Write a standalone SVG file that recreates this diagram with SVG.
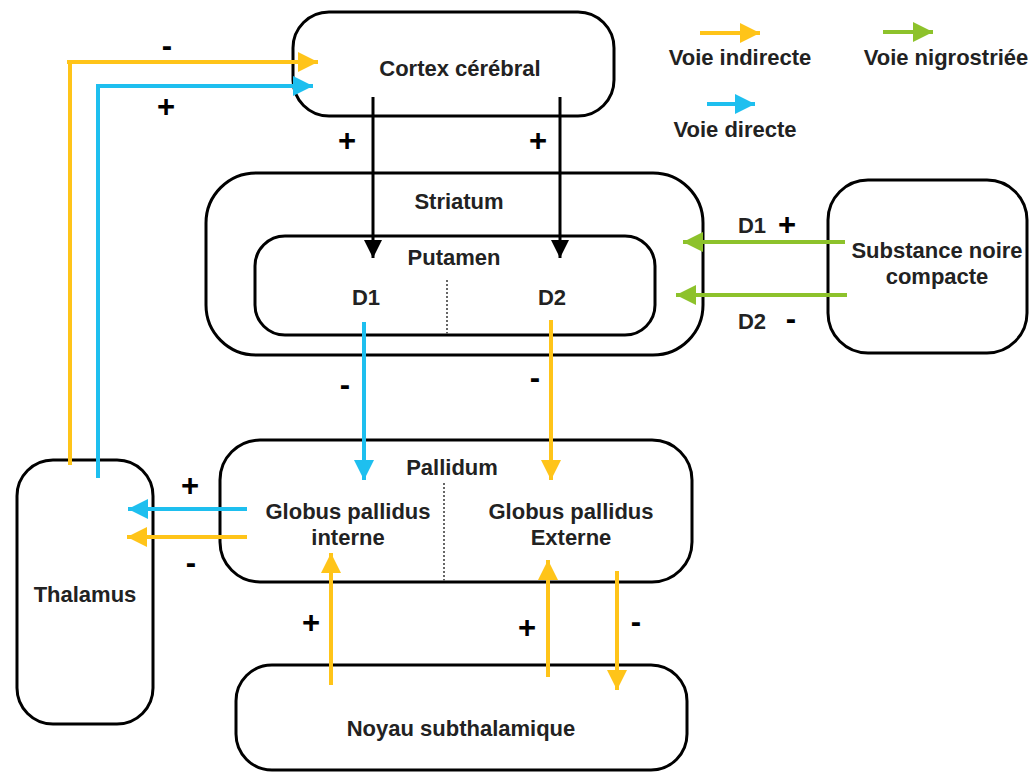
<svg xmlns="http://www.w3.org/2000/svg" width="1029" height="772" viewBox="0 0 1029 772">
<style>
.box{fill:#fff;stroke:#000;stroke-width:3}
.t{font-family:"Liberation Sans",Arial,sans-serif;font-size:22px;font-weight:bold;fill:#222;text-anchor:middle}
.s{font-family:"Liberation Sans",Arial,sans-serif;font-size:31px;font-weight:bold;fill:#000;text-anchor:middle}
.o{stroke:#FFC419;stroke-width:4;fill:none}
.b{stroke:#1EBFEF;stroke-width:4;fill:none}
.g{stroke:#8DC22B;stroke-width:4;fill:none}
.k{stroke:#000;stroke-width:3;fill:none}
.dot{stroke:#666;stroke-width:2;stroke-dasharray:2 2;fill:none}
</style>
<defs>
<marker id="mo" viewBox="0 0 10 10" refX="10" refY="5" markerWidth="5" markerHeight="5" markerUnits="strokeWidth" orient="auto"><path d="M0,0L10,5L0,10z" fill="#FFC419"/></marker>
<marker id="mb" viewBox="0 0 10 10" refX="10" refY="5" markerWidth="5" markerHeight="5" markerUnits="strokeWidth" orient="auto"><path d="M0,0L10,5L0,10z" fill="#1EBFEF"/></marker>
<marker id="mg" viewBox="0 0 10 10" refX="10" refY="5" markerWidth="5" markerHeight="5" markerUnits="strokeWidth" orient="auto"><path d="M0,0L10,5L0,10z" fill="#8DC22B"/></marker>
<marker id="mk" viewBox="0 0 10 10" refX="10" refY="5" markerWidth="6" markerHeight="6" markerUnits="strokeWidth" orient="auto"><path d="M0,0L10,5L0,10z" fill="#000"/></marker>
</defs>
<rect width="1029" height="772" fill="#fff"/>

<g id="cortex"><rect class="box" x="293" y="12" width="321" height="104" rx="36"/><text class="t" x="460" y="76">Cortex cérébral</text></g>
<g id="striatum"><rect class="box" x="206" y="173" width="497" height="182" rx="50"/><text class="t" x="459" y="209">Striatum</text></g>
<g id="putamen"><rect class="box" x="255" y="236" width="400" height="99" rx="30"/><text class="t" x="454" y="265">Putamen</text><text class="t" x="366" y="305">D1</text><text class="t" x="552" y="305">D2</text><line class="dot" x1="447" y1="280" x2="447" y2="334"/></g>
<g id="substance-noire"><rect class="box" x="828" y="180" width="199" height="173" rx="40"/><text class="t" x="937" y="258">Substance noire</text><text class="t" x="937" y="284">compacte</text></g>
<g id="pallidum"><rect class="box" x="220" y="440" width="472" height="142" rx="40"/><text class="t" x="452" y="475">Pallidum</text><line class="dot" x1="444" y1="483" x2="444" y2="581"/><text class="t" x="348" y="519">Globus pallidus</text><text class="t" x="348" y="545">interne</text><text class="t" x="571" y="519">Globus pallidus</text><text class="t" x="571" y="545">Externe</text></g>
<g id="thalamus"><rect class="box" x="17" y="460" width="136" height="264" rx="36"/><text class="t" x="85" y="602">Thalamus</text></g>
<g id="noyau-subthalamique"><rect class="box" x="236" y="665" width="451" height="105" rx="36"/><text class="t" x="461" y="736">Noyau subthalamique</text></g>

<g id="connectors">
<path class="o" d="M70,465V62" /><path class="o" d="M67,62H318" marker-end="url(#mo)"/>
<path class="b" d="M98,478V86H313" marker-end="url(#mb)"/>
<path class="k" d="M373,97V258" marker-end="url(#mk)"/>
<path class="k" d="M560,97V258" marker-end="url(#mk)"/>
<path class="g" d="M845,242H683" marker-end="url(#mg)"/>
<path class="g" d="M847,295H676" marker-end="url(#mg)"/>
<path class="b" d="M364,322V480" marker-end="url(#mb)"/>
<path class="o" d="M551,320V480" marker-end="url(#mo)"/>
<path class="b" d="M247,509H128" marker-end="url(#mb)"/>
<path class="o" d="M247,537H127" marker-end="url(#mo)"/>
<path class="o" d="M331,685V553" marker-end="url(#mo)"/>
<path class="o" d="M548,677V560" marker-end="url(#mo)"/>
<path class="o" d="M617,571V690" marker-end="url(#mo)"/>
</g>

<g id="signs">
<text class="s" x="167" y="56">-</text>
<text class="s" x="166" y="117">+</text>
<text class="s" x="347" y="151">+</text>
<text class="s" x="538" y="151">+</text>
<text class="t" x="752" y="233">D1</text><text class="s" x="787" y="235">+</text>
<text class="t" x="752" y="329">D2</text><text class="s" x="791" y="329">-</text>
<text class="s" x="345" y="395">-</text>
<text class="s" x="535" y="388">-</text>
<text class="s" x="190" y="496">+</text>
<text class="s" x="191" y="573">-</text>
<text class="s" x="311" y="633">+</text>
<text class="s" x="527" y="638">+</text>
<text class="s" x="636" y="632">-</text>
</g>

<g id="legend">
<path class="o" d="M700,33H760" marker-end="url(#mo)"/><text class="t" x="740" y="65">Voie indirecte</text>
<path class="g" d="M883,32H933" marker-end="url(#mg)"/><text class="t" x="946" y="65">Voie nigrostriée</text>
<path class="b" d="M707,104H755" marker-end="url(#mb)"/><text class="t" x="735" y="137">Voie directe</text>
</g>
</svg>
